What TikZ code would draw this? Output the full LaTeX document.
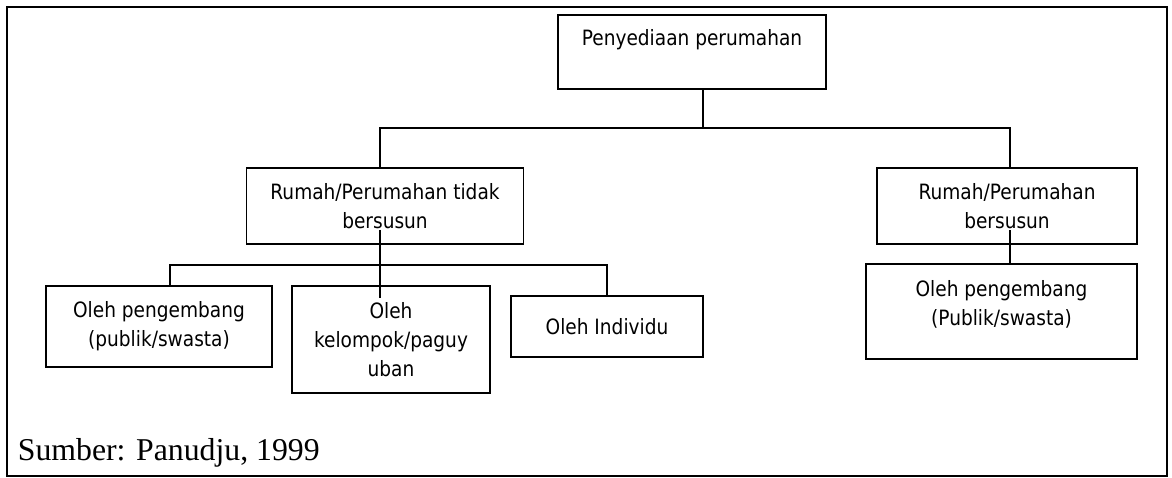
\documentclass[tikz,border=0pt]{standalone}
\usepackage{fontspec}
\setmainfont[FakeStretch=0.88]{DejaVu Sans}
\newfontfamily\sourcefont{Liberation Serif}

\tikzset{
  box/.style={draw, rectangle, line width=1.15pt, inner sep=0pt, align=center,
              font=\fontsize{15}{20.6}\selectfont},
  link/.style={line width=1.15pt},
}

\begin{document}
\begin{tikzpicture}[x=0.25mm,y=-0.25mm]

  \useasboundingbox (0,0) rectangle (1172,478);
  \draw[line width=1.15pt] (7,7) rectangle (1167,476);

  %% Draw Boxes
  \node[box, minimum width=67mm, minimum height=18.5mm] (housing) at (692,52) {Penyediaan perumahan\\ \mbox{}};
  \node[box, minimum width=69.25mm, minimum height=19mm] (landed) at (385,206) {Rumah/Perumahan tidak\\bersusun};
  \node[box, minimum width=65mm, minimum height=19mm] (stacked) at (1007,206) {Rumah/Perumahan\\bersusun};

  \node[box, minimum width=56.5mm, minimum height=20.25mm] (dev) at (159,326.5) {Oleh pengembang\\(publik/swasta)};
  \node[box, minimum width=49.5mm, minimum height=26.75mm] (group) at (391,339.5) {Oleh\\kelompok/paguy\\uban};
  \node[box, minimum width=48mm, minimum height=15.25mm] (indiv) at (607,326.5) {Oleh Individu};
  \node[box, minimum width=67.75mm, minimum height=23.75mm] (devR) at (1001.5,311.5) {Oleh pengembang\\(Publik/swasta)\\[-9pt] \mbox{}};

  %% Draw Links
  \coordinate (jTop) at (703,128);
  \coordinate (jLeft) at (380,128);
  \coordinate (jRight) at (1010,128);
  \draw[link] (housing.south -| jTop) -- (jTop);
  \draw[link] (landed.north -| jLeft) -- (jLeft) -- (jRight) -- (stacked.north -| jRight);

  \coordinate (kStart) at (380,230);
  \coordinate (kEnd) at (380,298);
  \coordinate (kLeft) at (170,265);
  \coordinate (kRight) at (607,265);
  \draw[link] (kStart) -- (kEnd);
  \draw[link] (dev.north -| kLeft) -- (kLeft) -- (kRight) -- (indiv.north -| kRight);

  \coordinate (rStart) at (1010,230);
  \draw[link] (rStart) -- (rStart |- devR.north);

  %% Source
  \node[anchor=base west, inner sep=0pt, font=\sourcefont\fontsize{22.6}{28}\selectfont] (source) at (17.6,460) {Sumber: Panudju, 1999};

\end{tikzpicture}
\end{document}
